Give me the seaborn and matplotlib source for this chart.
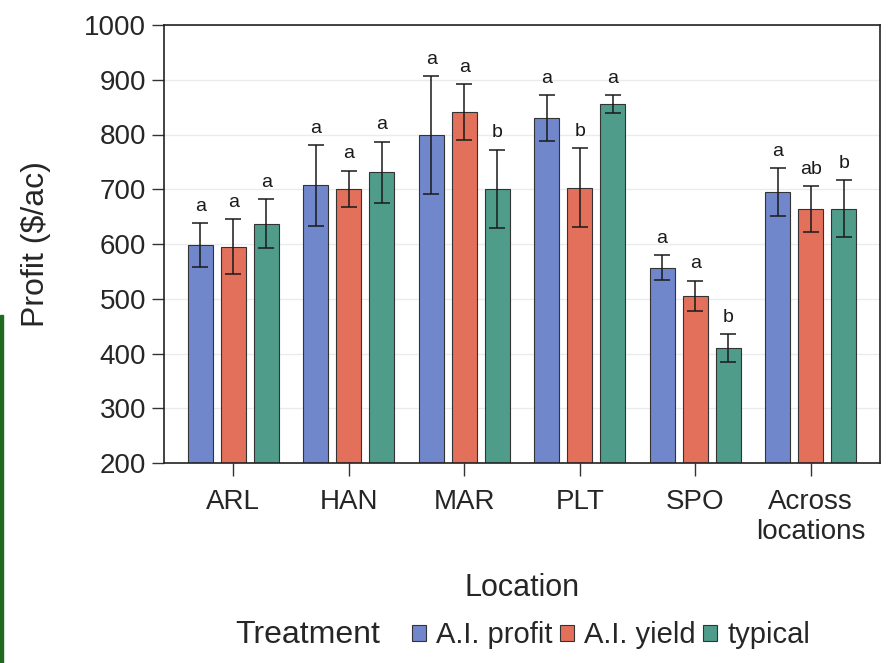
import matplotlib
matplotlib.use("Agg")
import matplotlib.pyplot as plt
import matplotlib.patches as mpatches
import seaborn as sns
import pandas as pd
import numpy as np

locations = ["ARL", "HAN", "MAR", "PLT", "SPO", "Across\nlocations"]
treatments = ["A.I. profit", "A.I. yield", "typical"]

profit_ai_profit = [598, 707, 799, 830, 557, 695]
profit_ai_yield = [595, 701, 841, 703, 505, 664]
profit_typical = [637, 731, 701, 856, 410, 664]

err_ai_profit = [40, 74, 107, 42, 23, 44]
err_ai_yield = [50, 33, 51, 72, 28, 42]
err_typical = [45, 56, 71, 16, 25, 52]

letters_ai_profit = ["a", "a", "a", "a", "a", "a"]
letters_ai_yield = ["a", "a", "a", "b", "a", "ab"]
letters_typical = ["a", "a", "b", "a", "b", "b"]

colors = ["#7087cb", "#e2705b", "#4f9c8b"]

rows = []
for t, vals, errs, lets in zip(treatments,
                               [profit_ai_profit, profit_ai_yield, profit_typical],
                               [err_ai_profit, err_ai_yield, err_typical],
                               [letters_ai_profit, letters_ai_yield, letters_typical]):
    for loc, v, e, l in zip(locations, vals, errs, lets):
        rows.append(dict(Location=loc, Treatment=t, Profit=v, Err=e, Letter=l))
df = pd.DataFrame(rows)

sns.set_style("white")
plt.rcParams["font.family"] = ["Liberation Sans", "DejaVu Sans"]

fig = plt.figure(figsize=(8.91, 6.63), dpi=100)
ax = fig.add_axes([164/891, 1-463/663, (880-164)/891, (463-25)/663])

sns.barplot(data=df, x="Location", y="Profit", hue="Treatment", order=locations,
            hue_order=treatments, palette=colors, width=0.86, gap=0.24,
            edgecolor="#333333", linewidth=0.8, saturation=1, errorbar=None, ax=ax)

# error bars and letters, positioned from the drawn bars
for cont, t in zip(ax.containers, treatments):
    sub = df[df.Treatment == t].set_index("Location").loc[locations]
    xs = [b.get_x() + b.get_width()/2 for b in cont]
    ax.errorbar(xs, sub.Profit.values, yerr=sub.Err.values, fmt="none",
                ecolor="#1a1a1a", elinewidth=1.1, capsize=6, capthick=1.1, zorder=5)
    for x, v, e, l in zip(xs, sub.Profit.values, sub.Err.values, sub.Letter.values):
        ax.annotate(l, (x, v + e), xytext=(0, 6), textcoords="offset points",
                    ha="center", va="bottom", fontsize=14, color="#1a1a1a")

ax.set_ylim(200, 1000)
ax.set_xlim(-0.6, 5.6)
ax.set_yticks(range(200, 1001, 100))
ax.yaxis.grid(True, color="#ebebeb", linewidth=1)
ax.set_axisbelow(True)
for s in ax.spines.values():
    s.set_color("#222222")
    s.set_linewidth(1.2)
ax.tick_params(axis="both", which="major", direction="out", length=9, width=1,
               color="#333333", left=True, bottom=True)
ax.tick_params(axis="y", labelsize=20, pad=4)
ax.tick_params(axis="x", labelsize=20, pad=10)
ax.set_ylabel("Profit ($/ac)", fontsize=23, labelpad=24)
ax.set_xlabel("Location", fontsize=22, labelpad=20)

handles, labels = ax.get_legend_handles_labels()
ax.get_legend().remove()
leg = fig.legend(handles, labels, loc="center left", bbox_to_anchor=(400/891, 1-635/663),
                 ncol=3, frameon=False, fontsize=21, handlelength=0.48, handleheight=0.48,
                 handletextpad=0.35, columnspacing=0.25, borderaxespad=0)
fig.text(235/891, 1-635/663, "Treatment", fontsize=23, va="center", ha="left")

# thin green strip at left edge of the reference image
fig.patches.append(mpatches.Rectangle((0, 0), 3/891, 1-315/663, transform=fig.transFigure,
                                      color="#1f6a1f", zorder=10))

fig.savefig("out.png", dpi=100)
